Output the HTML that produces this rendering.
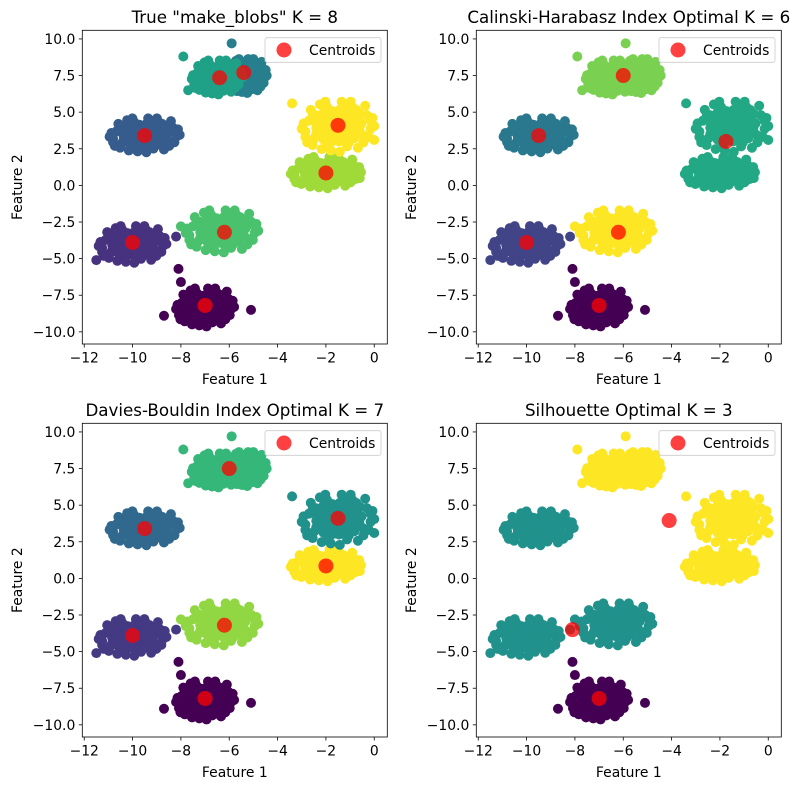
<!DOCTYPE html>
<html><head><meta charset="utf-8"><style>
body{margin:0;background:#fff}
svg{display:block;font-family:"DejaVu Sans","Liberation Sans",sans-serif}
</style></head><body>
<svg id="fig" width="798" height="790" viewBox="0 0 798 790"></svg>
<script>
// ---- data ----
const clusterCenters = [[-7,-8.3],[-10,-4],[-9.5,3.45],[-5.3,7.5],[-6.5,7.4],[-6.3,-3.1],[-2,0.9],[-1.5,4.05]];
const clusterSpread = [[1.2,1.4],[1.4,1.35],[1.45,1.25],[0.85,1.25],[1.05,1.25],[1.5,1.55],[1.45,1.15],[1.5,1.85]];
const jitter = [[0,0],[0.5,0.2],[-0.4,0.5],[0.3,-0.6],[-0.6,-0.3],[0.8,0.4],[-0.8,0.2],[0.1,0.9],[-0.2,-0.9],[0.6,-0.2],[-0.3,0.1],[0.2,0.4],[0.9,-0.1],[-0.9,-0.4],[0.4,0.7],[-0.5,0.8],[0.7,-0.6],[-0.7,-0.7],[0,-0.5],[0.3,0],[-0.1,0.3],[0.5,0.6],[-0.6,0.4],[0.2,-0.3],[-0.4,-0.5],[0.95,0.3],[-0.95,0.1],[0.15,0.75],[-0.25,-0.7],[0.65,0.1],[-0.15,0.55],[0.45,-0.45],[-0.55,-0.1],[0.85,-0.4],[-0.75,0.6],[0.05,-0.95],[0.35,0.9],[-0.35,0.9],[0.75,0.75],[-0.85,-0.6],[0.55,-0.8],[-0.45,-0.85],[1,0],[-1,-0.1],[0.1,0.15],[-0.2,-0.2],[0.25,-0.75],[-0.65,-0.45],[0.6,0.45],[-0.3,0.7],[0.7,-0.35],[-0.7,0.35],[0.4,-0.2],[-0.4,0.2],[0.15,-0.15],[-0.1,-0.4],[0.05,0.6],[0.9,0.2],[-0.9,-0.2],[0.3,0.3]];
const jitterScales = [1, 0.6, 0.3];
const outliers = [[-8.1,-5.7,0],[-8,-6.6,0],[-5.1,-8.5,0],[-8.7,-8.9,0],[-8.2,-3.5,1],[-11.5,-5.1,1],[-5.9,9.7,3],[-7.9,8.8,4],[-7.7,6.5,4],[-3.4,5.6,7],[0,3.1,7],[-4.9,-2.9,5],[-8,-2.8,5],[-3,1.3,6],[-0.6,0.5,6]];
const panelTitles = ['True "make_blobs" K = 8','Calinski-Harabasz Index Optimal K = 6','Davies-Bouldin Index Optimal K = 7','Silhouette Optimal K = 3'];
const panelColors = [
 ['#440154','#46327e','#365c8d','#277f8e','#1fa187','#4ac16d','#a0da39','#fde725'],
 ['#440154','#414487','#2a788e','#7ad151','#7ad151','#fde725','#22a884','#22a884'],
 ['#440154','#443983','#31688e','#35b779','#35b779','#90d743','#fde725','#21918c'],
 ['#440154','#21918c','#21918c','#fde725','#fde725','#21918c','#fde725','#fde725']];
const panelCentroids = [
 [[-7,-8.2],[-10,-3.9],[-9.5,3.4],[-5.4,7.7],[-6.4,7.35],[-6.2,-3.2],[-2,0.85],[-1.5,4.1]],
 [[-7,-8.2],[-10,-3.9],[-9.5,3.4],[-6,7.5],[-6.2,-3.2],[-1.75,3]],
 [[-7,-8.2],[-10,-3.9],[-9.5,3.4],[-6,7.5],[-6.2,-3.2],[-2,0.85],[-1.5,4.1]],
 [[-7,-8.2],[-8.1,-3.5],[-4.1,3.95]]];
const xTicks = [-12,-10,-8,-6,-4,-2,0];
const yTicks = [10,7.5,5,2.5,0,-2.5,-5,-7.5,-10];
// ---- drawing ----
const NS='http://www.w3.org/2000/svg';
const svg=document.getElementById('fig');
function mk(tag,attrs,parent){const e=document.createElementNS(NS,tag);for(const k in attrs)e.setAttribute(k,attrs[k]);(parent||svg).appendChild(e);return e;}
const offsets=[[0,0],[394,0],[0,393],[394,393]];
const X0=82.3,X1=387.3,Y0=30.3,Y1=344;
const xmin=-12.08,xmax=0.54,ymin=-10.83,ymax=10.59;
function fmt(v,d){return (v<0?'\u2212':'')+Math.abs(v).toFixed(d);}
panelTitles.forEach((title,p)=>{
  const [ox,oy]=offsets[p];
  const sx=v=>ox+X0+(v-xmin)/(xmax-xmin)*(X1-X0);
  const sy=v=>oy+Y1-(v-ymin)/(ymax-ymin)*(Y1-Y0);
  const g=mk('g',{});
  
  
  const clip=mk('clipPath',{id:'c'+p},g);
  mk('rect',{x:ox+X0,y:oy+Y0,width:X1-X0,height:Y1-Y0},clip);
  const pts=mk('g',{'clip-path':'url(#c'+p+')'},g);
  
  
  clusterCenters.forEach((c,ci)=>{
    jitterScales.forEach(s=>{
      jitter.forEach(j=>{
        const d=mk('circle',{cx:sx(c[0]+j[0]*s*clusterSpread[ci][0]),cy:sy(c[1]+j[1]*s*clusterSpread[ci][1]),r:5,fill:panelColors[p][ci]},pts);
        
        
      });
    });
  });
  outliers.forEach(o=>{
    const d=mk('circle',{cx:sx(o[0]),cy:sy(o[1]),r:5,fill:panelColors[p][o[2]]},pts);
    
    
  });
  panelCentroids[p].forEach(c=>{
    const d=mk('circle',{cx:sx(c[0]),cy:sy(c[1]),r:7.5,fill:'rgba(255,0,0,0.75)'},pts);
    
    
  });
  mk('rect',{x:ox+X0,y:oy+Y0,width:X1-X0,height:Y1-Y0,fill:'none',stroke:'#000','stroke-width':0.8},g);
  xTicks.forEach(t=>{const x=sx(t);mk('line',{x1:x,x2:x,y1:oy+Y1,y2:oy+Y1+3.5,stroke:'#000','stroke-width':0.8},g);
    const tx=mk('text',{x:x,y:oy+Y1+18.5,'font-size':13.9,'text-anchor':'middle'},g);tx.textContent=fmt(t,0);
    });
  yTicks.forEach(t=>{const y=sy(t);mk('line',{x1:ox+X0,x2:ox+X0-3.5,y1:y,y2:y,stroke:'#000','stroke-width':0.8},g);
    const tx=mk('text',{x:ox+X0-7,y:y+5,'font-size':13.9,'text-anchor':'end'},g);tx.textContent=fmt(t,1);
    });
  const xl=mk('text',{x:ox+(X0+X1)/2,y:oy+384,'font-size':13.9,'text-anchor':'middle'},g);xl.textContent='Feature 1';
  
  const yl=mk('text',{x:0,y:0,'font-size':13.9,'text-anchor':'middle',transform:`translate(${ox+22},${oy+(Y0+Y1)/2}) rotate(-90)`},g);yl.textContent='Feature 2';
  
  const tt=mk('text',{x:ox+(X0+X1)/2,y:oy+23,'font-size':16.7,'text-anchor':'middle'},g);tt.textContent=title;
  
  const lg=mk('g',{},g);
  
  
  mk('rect',{x:ox+265,y:oy+37.7,width:116,height:24.6,rx:2,fill:'rgba(255,255,255,0.8)',stroke:'#ccc','stroke-width':0.8},lg);
  mk('circle',{cx:ox+284,cy:oy+50,r:7.5,fill:'rgba(255,0,0,0.75)'},lg);
  const lt=mk('text',{x:ox+309,y:oy+54.8,'font-size':13.9},lg);lt.textContent='Centroids';
  
});
</script>
</body></html>
